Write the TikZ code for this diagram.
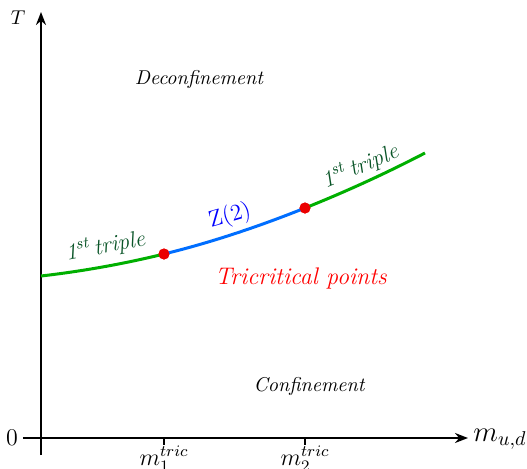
\documentclass[tikz,border=0pt]{standalone}
\usetikzlibrary{arrows.meta}
\definecolor{curvegreen}{RGB}{0,175,0}
\definecolor{curveblue}{RGB}{0,110,255}
\definecolor{labelgreen}{RGB}{10,85,40}
\definecolor{dotred}{RGB}{235,0,0}
\tikzset{
  axis/.style={line width=1pt, -{Stealth[length=6.5pt,width=5pt]}},
  greenseg/.style={curvegreen, line width=1.5pt},
  blueseg/.style={curveblue, line width=1.5pt},
  tricdot/.style={circle, fill=dotred, inner sep=0pt, minimum size=5.5pt},
  triplelabel/.style={text=labelgreen, font=\fontsize{11.5}{13}\selectfont\itshape, inner sep=0pt},
  zlabel/.style={text=blue, font=\fontsize{11.5}{13}\selectfont, inner sep=0pt},
  phaselabel/.style={font=\normalsize\itshape, inner sep=0pt},
  tick/.style={line width=1pt}
}
\begin{document}
\begin{tikzpicture}[x=0.5pt,y=-0.5pt]
\useasboundingbox (0,0) rectangle (527,468);
% axes
\coordinate (xstart) at (23,438);
\coordinate (xend) at (468,438);
\coordinate (ystart) at (41,455);
\coordinate (yend) at (41,12);
\draw[axis] (xstart) -- (xend);
\draw[axis] (ystart) -- (yend);
\node[inner sep=0pt, font=\fontsize{12}{14}\selectfont] (zero) at (12,438) {$0$};
\node[inner sep=0pt, anchor=west, font=\fontsize{14}{16}\selectfont] (mud) at (473,439) {$m_{u,d}$};
\node[inner sep=0pt, font=\normalsize] (T) at (18,18) {$T$};
% ticks
\coordinate (t1a) at (164,438); \coordinate (t1b) at (164,445);
\coordinate (t2a) at (305,438); \coordinate (t2b) at (305,445);
\draw[tick] (t1a) -- (t1b);
\draw[tick] (t2a) -- (t2b);
\node[inner sep=0pt, anchor=north, font=\fontsize{11.5}{13}\selectfont] (m1) at (164,446) {$m_1^{tric}$};
\node[inner sep=0pt, anchor=north, font=\fontsize{11.5}{13}\selectfont] (m2) at (305,446) {$m_2^{tric}$};
% curve
\coordinate (c0) at (41,276);
\coordinate (c3) at (425,153);
\node[tricdot] (p1) at (164,254) {};
\node[tricdot] (p2) at (305,208) {};
\draw[greenseg] (c0) .. controls (82,271.3) and (123,264) .. (p1.center);
\draw[blueseg] (p1.center) .. controls (211,242.5) and (258,226.8) .. (p2.center);
\draw[greenseg] (p2.center) .. controls (345,192) and (385,173.8) .. (c3);
\node[tricdot] at (p1) {};
\node[tricdot] at (p2) {};
% labels
\node[triplelabel, rotate=11] (tr1) at (105,246) {1\textsuperscript{st}\,triple};
\node[zlabel, rotate=16] (z2) at (230,216) {Z(2)};
\node[triplelabel, rotate=23] (tr2) at (360,166) {1\textsuperscript{st}\,triple};
\node[text=red, font=\fontsize{12}{14}\selectfont\itshape, inner sep=0pt] (tric) at (301,278) {Tricritical points};
\node[phaselabel] (dec) at (199,79) {Deconfinement};
\node[phaselabel] (conf) at (309,386) {Confinement};
\end{tikzpicture}
\end{document}
